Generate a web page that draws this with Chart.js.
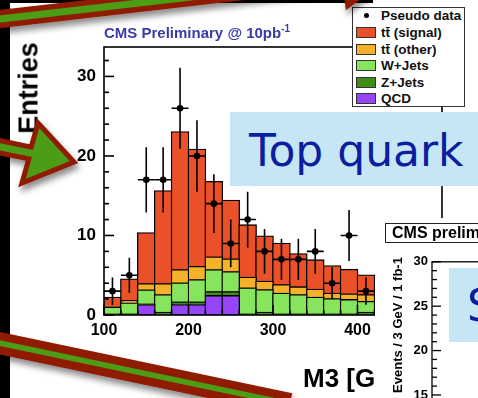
<!DOCTYPE html>
<html>
<head>
<meta charset="utf-8">
<script src="https://cdn.jsdelivr.net/npm/chart.js@4.4.1/dist/chart.umd.min.js"></script>
<style>
  html, body { margin: 0; padding: 0; }
  body { width: 478px; height: 398px; overflow: hidden; background: #000; position: relative; font-family: "Liberation Sans", Arial, sans-serif; }
  .abs { position: absolute; }
  #slide { left: 10px; top: 3px; width: 468px; height: 395px; background: #fff; }
  #slideTop { left: 373px; top: 0; width: 105px; height: 3px; background: #fff; }
  #plotTitle { left: 104px; top: 25px; font: bold 15px "Liberation Sans"; line-height: 15px; color: #3b3ba6; white-space: nowrap; }
  #plotTitle span { font-size: 10px; position: relative; top: -6px; }
  #yTitle { left: 29px; top: 88px; transform: translate(-50%, -50%) rotate(-90deg); font: bold 27px "Liberation Sans"; line-height: 27px; white-space: nowrap; }
  #xTitle { left: 303px; top: 365px; font: bold 26px "Liberation Sans"; line-height: 26px; white-space: nowrap; }
  #legendBox { left: 352px; top: 7px; width: 113px; height: 100px; box-sizing: border-box; border: 1.5px solid #333; background: #fff; }
  .sw { width: 20px; height: 11px; box-sizing: border-box; border: 1.3px solid #333; }
  .lt { font: bold 13.5px "Liberation Sans"; line-height: 14px; white-space: nowrap; color: #111; }
  #topBox { left: 230px; top: 112px; width: 248px; height: 74px; background: #c6e6f6; }
  .bigText { font: 44px "DejaVu Sans"; line-height: 44px; color: #0b1e9e; white-space: nowrap; }
  #inset { left: 375px; top: 218px; width: 103px; height: 180px; background: #fff; overflow: hidden; }
  #cmsBox { left: 10px; top: 5px; width: 120px; height: 20px; box-sizing: border-box; border: 1.5px solid #222; padding-left: 6px; font: bold 16px "Liberation Sans"; line-height: 17px; white-space: nowrap; }
  #insetYTitle { left: 22px; top: 107px; transform: translate(-50%, -50%) rotate(-90deg); font: bold 13px "Liberation Sans"; line-height: 13px; white-space: nowrap; }
</style>
</head>
<body>
<div id="slide" class="abs"></div>
<div id="slideTop" class="abs"></div>

<canvas id="m3Chart" class="abs" style="left:0;top:0" width="478" height="398"></canvas>

<div id="plotTitle" class="abs">CMS Preliminary @ 10pb<span>-1</span></div>
<div id="yTitle" class="abs">Entries</div>
<div id="xTitle" class="abs">M3 [GeV]</div>

<div id="legendBox" class="abs"></div>
<div class="abs" style="left:363.5px;top:13px;width:5px;height:5px;border-radius:50%;background:#000"></div>
<div class="abs lt" style="left:381px;top:9px">Pseudo data</div>
<div class="abs sw" style="left:356px;top:27px;background:#ea5128"></div>
<div class="abs lt" style="left:381px;top:26px">tt̄ (signal)</div>
<div class="abs sw" style="left:356px;top:43.5px;background:#f3b22a"></div>
<div class="abs lt" style="left:381px;top:42.5px">tt̄ (other)</div>
<div class="abs sw" style="left:356px;top:60px;background:#86e55c"></div>
<div class="abs lt" style="left:381px;top:59px">W+Jets</div>
<div class="abs sw" style="left:356px;top:76.5px;background:#408d16"></div>
<div class="abs lt" style="left:381px;top:75.5px">Z+Jets</div>
<div class="abs sw" style="left:356px;top:93px;background:#9646f8"></div>
<div class="abs lt" style="left:381px;top:92px">QCD</div>

<div id="topBox" class="abs"></div>
<div class="abs bigText" style="left:249px;top:129px">Top quark</div>

<div id="inset" class="abs">
  <div id="cmsBox" class="abs">CMS preliminary</div>
  <canvas id="insetChart" class="abs" style="left:3px;top:32px" width="150" height="212"></canvas>
  <div id="insetYTitle" class="abs">Events / 3 GeV / 1 fb-1</div>
  <div class="abs" style="left:74px;top:50px;width:60px;height:74px;background:#c6e6f6"></div>
  <div class="abs bigText" style="left:92px;top:66px">Single top</div>
</div>

<svg class="abs" style="left:0;top:0" width="478" height="398">
  <defs>
    <filter id="sh" x="-20%" y="-60%" width="140%" height="220%">
      <feDropShadow dx="2" dy="5" stdDeviation="3" flood-color="#000" flood-opacity="0.45"/>
    </filter>
  </defs>
  <g filter="url(#sh)">
    <polygon points="-20.7,15.1 344.3,-26.9 342,-46.5 389.7,-25.8 348,5.1 345.7,-14.5 -19.3,27.5"
             fill="#4d9c14" stroke="#8f1a02" stroke-width="5.5" stroke-linejoin="miter"/>
  </g>
  <g filter="url(#sh)">
    <polygon points="-8.8,138.8 31.2,147.1 38,123 74,162 22,183 28.8,158.9 -11.2,150.6"
             fill="#4d9c14" stroke="#8f1a02" stroke-width="5" stroke-linejoin="miter"/>
  </g>
  <g filter="url(#sh)">
    <line x1="-20" y1="339" x2="290" y2="404" stroke="#8f1a02" stroke-width="22"/>
    <line x1="-20" y1="339" x2="290" y2="404" stroke="#4d9c14" stroke-width="5.5"/>
  </g>
</svg>

<script>
var binCenters = [110, 130, 150, 170, 190, 210, 230, 250, 270, 290, 310, 330, 350, 370, 390, 410];

var qcd      = [0, 0, 1.25, 0, 1.25, 1.25, 2.4, 2.4, 0, 0, 0, 0, 0, 0, 0, 0];
var zJets    = [0.1, 0.1, 0.1, 0.3, 0.35, 0.35, 0.5, 0.5, 0.1, 0.3, 0.1, 0.1, 0.1, 0.1, 0.1, 0.3];
var wJets    = [0.85, 1.37, 1.75, 2.2, 2.4, 2.8, 2.75, 2.5, 3.25, 2.85, 2.6, 2.4, 2.1, 1.9, 1.8, 1.37];
var ttOther  = [0.05, 0.33, 0.8, 1.4, 1.65, 1.67, 1.6, 1.6, 1.35, 1.05, 1.07, 1.0, 1.0, 0.7, 0.7, 0.83];
var ttSignal = [1.2, 2.7, 6.4, 11.7, 17.35, 14.73, 9.5, 7.4, 6.6, 5.7, 5.23, 4.16, 3.7, 3.45, 3.1, 2.5];

var pseudoData = [3, 5, 17, 17, 26, 20, 14, 9, 12, 8, 7, 7, 8, 4, 10, 3];
var pseudoErr  = [1.7, 2.2, 4.1, 4.1, 5.1, 4.5, 3.7, 3.0, 3.5, 2.8, 2.6, 2.6, 2.8, 2.0, 3.2, 1.7];

var xTicks = [100, 200, 300, 400, 500];
var yTicks = [0, 10, 20, 30];
var insetTicks = [15, 20, 25, 30];

var binHalfWidth = 10;

function points(values) {
    return values.map(function(v, i) { return {x: binCenters[i], y: v}; });
}

function histo(label, values, color) {
    return {
        type: 'bar', label: label, data: points(values), order: 1,
        backgroundColor: color, borderColor: '#000', borderWidth: 1.3, borderSkipped: false,
        barPercentage: 1, categoryPercentage: 1, inflateAmount: 0.8
    };
}

// axis frame + inward ticks, drawn from the chart's own scales
var frameTicks = {
    id: 'frameTicks',
    afterDatasetsDraw: function(chart, args, o) {
        var ctx = chart.ctx, a = chart.chartArea;
        var ys = chart.scales.y, xs = chart.scales.x;
        ctx.save();
        ctx.strokeStyle = '#000';
        ctx.lineWidth = o.lineWidth;
        var k, v, p, major;
        for (k = Math.ceil(ys.min / o.yMinor); k * o.yMinor <= ys.max; k++) {
            v = k * o.yMinor;
            major = Math.abs(v / o.yMajor - Math.round(v / o.yMajor)) < 1e-6;
            p = ys.getPixelForValue(v);
            ctx.beginPath();
            ctx.moveTo(a.left, p);
            ctx.lineTo(a.left + (major ? o.majorLen : o.minorLen), p);
            ctx.stroke();
        }
        if (o.xMinor) {
            for (k = Math.ceil(xs.min / o.xMinor); k * o.xMinor <= xs.max; k++) {
                v = k * o.xMinor;
                major = Math.abs(v / o.xMajor - Math.round(v / o.xMajor)) < 1e-6;
                p = xs.getPixelForValue(v);
                ctx.beginPath();
                ctx.moveTo(p, a.bottom);
                ctx.lineTo(p, a.bottom - (major ? o.majorLen : o.minorLen));
                ctx.stroke();
            }
        }
        ctx.strokeRect(a.left, a.top, a.right - a.left, a.bottom - a.top);
        ctx.restore();
    }
};

var errorBars = {
    id: 'errorBars',
    afterDatasetsDraw: function(chart) {
        var ctx = chart.ctx, xs = chart.scales.x, ys = chart.scales.y;
        ctx.save();
        ctx.strokeStyle = '#000';
        ctx.lineWidth = 1.6;
        pseudoData.forEach(function(n, i) {
            var c = binCenters[i];
            var px = xs.getPixelForValue(c), py = ys.getPixelForValue(n);
            ctx.beginPath();
            ctx.moveTo(px, ys.getPixelForValue(n - pseudoErr[i]));
            ctx.lineTo(px, ys.getPixelForValue(n + pseudoErr[i]));
            ctx.moveTo(xs.getPixelForValue(c - binHalfWidth), py);
            ctx.lineTo(xs.getPixelForValue(c + binHalfWidth), py);
            ctx.stroke();
        });
        ctx.restore();
    }
};

var tickFont = {family: 'Liberation Sans', weight: 'bold'};

new Chart(document.getElementById('m3Chart'), {
    type: 'bar',
    data: {
        datasets: [
            {type: 'scatter', label: 'Pseudo data', data: points(pseudoData), order: 0, stack: 'data',
             pointRadius: 3.3, pointBackgroundColor: '#000', pointBorderWidth: 0},
            histo('QCD', qcd, '#9646f8'),
            histo('Z+Jets', zJets, '#408d16'),
            histo('W+Jets', wJets, '#86e55c'),
            histo('tt other', ttOther, '#f3b22a'),
            histo('tt signal', ttSignal, '#ea5128')
        ]
    },
    options: {
        responsive: false,
        animation: false,
        devicePixelRatio: 1,
        layout: {padding: {left: 0, right: 36, top: 47, bottom: 53}},
        plugins: {
            legend: {display: false},
            tooltip: {enabled: false},
            frameTicks: {lineWidth: 1.6, yMinor: 2, yMajor: 10, xMinor: 20, xMajor: 100, majorLen: 10, minorLen: 5}
        },
        scales: {
            x: {
                type: 'linear', min: 100, max: 500, stacked: true, offset: false,
                grid: {display: false, drawTicks: false}, border: {display: false},
                ticks: {color: '#000', padding: 6, autoSkip: false, maxRotation: 0, font: Object.assign({size: 16}, tickFont)},
                afterBuildTicks: function(s) { s.ticks = xTicks.map(function(v) { return {value: v}; }); },
                afterFit: function(s) { s.height = 30; }
            },
            y: {
                min: 0, max: 33.7, stacked: true,
                grid: {display: false, drawTicks: false}, border: {display: false},
                ticks: {color: '#000', padding: 8, font: Object.assign({size: 17}, tickFont)},
                afterBuildTicks: function(s) { s.ticks = yTicks.map(function(v) { return {value: v}; }); },
                afterFit: function(s) { s.width = 104; }
            }
        }
    },
    plugins: [frameTicks, errorBars]
});

new Chart(document.getElementById('insetChart'), {
    type: 'scatter',
    data: {datasets: []},
    options: {
        responsive: false,
        animation: false,
        devicePixelRatio: 1,
        layout: {padding: {left: 0, right: 0, top: 11, bottom: 12}},
        plugins: {
            legend: {display: false},
            tooltip: {enabled: false},
            frameTicks: {lineWidth: 1.3, yMinor: 1, yMajor: 5, majorLen: 9, minorLen: 5}
        },
        scales: {
            x: {type: 'linear', display: false, min: 0, max: 1},
            y: {
                min: 8.8, max: 30,
                grid: {display: false, drawTicks: false}, border: {display: false},
                ticks: {color: '#000', padding: 4, font: Object.assign({size: 13}, tickFont)},
                afterBuildTicks: function(s) { s.ticks = insetTicks.map(function(v) { return {value: v}; }); },
                afterFit: function(s) { s.width = 54; }
            }
        }
    },
    plugins: [frameTicks]
});
</script>
</body>
</html>
